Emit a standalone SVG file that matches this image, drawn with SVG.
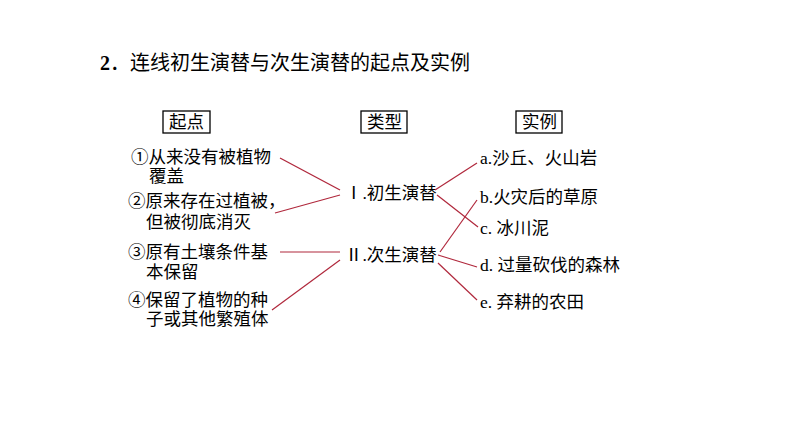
<svg xmlns="http://www.w3.org/2000/svg" width="794" height="447" viewBox="0 0 794 447">
<style>
text{font-family:"Liberation Serif","Noto Sans CJK SC",serif;fill:#000;font-size:17.5px}
.title{font-size:20px}
.cjk{font-family:"Noto Sans CJK SC",sans-serif}
.box{fill:none;stroke:#000;stroke-width:1.3}
.ln{stroke:#b0283c;stroke-width:1.2;fill:none}
</style>
<rect width="794" height="447" fill="#fff"/>
<g id="title"><text class="title" x="100" y="70"><tspan font-weight="bold">2</tspan>．连线初生演替与次生演替的起点及实例</text></g>
<g id="h-qidian"><rect class="box" x="163" y="111" width="47" height="22"/><text x="169" y="128">起点</text></g>
<g id="h-leixing"><rect class="box" x="361" y="111" width="46" height="22"/><text x="367" y="128">类型</text></g>
<g id="h-shili"><rect class="box" x="516" y="111" width="46" height="22"/><text x="522" y="128">实例</text></g>
<g id="s1"><text x="131" y="163"><tspan class="cjk">①</tspan>从来没有被植物</text><text x="149" y="182">覆盖</text></g>
<g id="s2"><text x="128" y="207"><tspan class="cjk">②</tspan>原来存在过植被，</text><text x="146" y="228">但被彻底消灭</text></g>
<g id="s3"><text x="128" y="258"><tspan class="cjk">③</tspan>原有土壤条件基</text><text x="146" y="278">本保留</text></g>
<g id="s4"><text x="128" y="306"><tspan class="cjk">④</tspan>保留了植物的种</text><text x="146" y="325">子或其他繁殖体</text></g>
<g id="t1"><text x="345" y="199">Ⅰ.初生演替</text></g>
<g id="t2"><text x="345" y="261">Ⅱ.次生演替</text></g>
<g id="ea"><text x="480" y="164">a.沙丘、火山岩</text></g>
<g id="eb"><text x="480" y="203">b.火灾后的草原</text></g>
<g id="ec"><text x="480" y="234">c. 冰川泥</text></g>
<g id="ed"><text x="480" y="271">d. 过量砍伐的森林</text></g>
<g id="ee"><text x="480" y="308">e. 弃耕的农田</text></g>
<g id="connectors">
<line class="ln" x1="280" y1="158" x2="340" y2="190"/>
<line class="ln" x1="275" y1="213" x2="340" y2="195"/>
<line class="ln" x1="280" y1="252" x2="340" y2="252"/>
<line class="ln" x1="272" y1="310" x2="340" y2="260"/>
<line class="ln" x1="435" y1="190" x2="477" y2="163"/>
<line class="ln" x1="437" y1="195" x2="478" y2="227"/>
<line class="ln" x1="440" y1="252" x2="477" y2="200"/>
<line class="ln" x1="438" y1="255" x2="477" y2="267"/>
<line class="ln" x1="438" y1="263" x2="477" y2="300"/>
</g>
</svg>
